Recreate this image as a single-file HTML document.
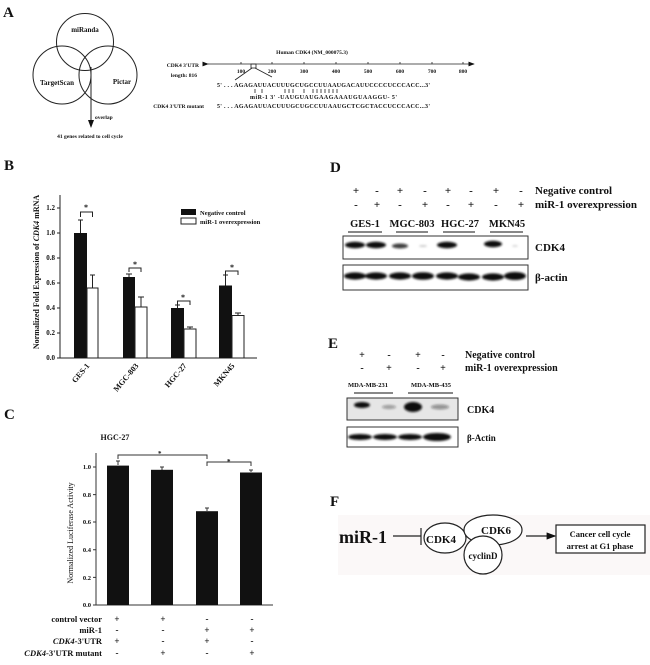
<!DOCTYPE html>
<html><head><meta charset="utf-8"><style>
html,body{margin:0;padding:0;background:#fff}
svg{display:block}
text{font-family:"Liberation Serif",serif;font-weight:bold;fill:#111}
</style></head><body>
<svg width="650" height="665" viewBox="0 0 650 665" xmlns="http://www.w3.org/2000/svg">
<defs>
<marker id="ah" markerWidth="8" markerHeight="6" refX="7" refY="3" orient="auto"><path d="M0,0L8,3L0,6z" fill="#111"/></marker>
<filter id="bl"><feGaussianBlur stdDeviation="1.1"/></filter>
</defs>
<!-- A -->
<text x="3" y="17" font-size="15">A</text>
<g fill="none" stroke="#222" stroke-width="1">
<circle cx="85" cy="42" r="28.5"/><circle cx="62" cy="75" r="29"/><circle cx="108" cy="75" r="29"/>
<line x1="91" y1="67" x2="91" y2="127" marker-end="url(#ah)"/>
</g>
<text x="85" y="32" font-size="7" text-anchor="middle">miRanda</text>
<text x="57" y="85" font-size="7" text-anchor="middle">TargetScan</text>
<text x="122" y="84" font-size="7" text-anchor="middle">Pictar</text>
<text x="95" y="119" font-size="5.5">overlap</text>
<text x="90" y="138" font-size="5.5" text-anchor="middle">41 genes related to cell cycle</text>
<text x="312" y="54" font-size="5.5" text-anchor="middle">Human CDK4 (NM_000075.3)</text>
<g stroke="#222" stroke-width="0.8" fill="none">
<line x1="208" y1="64" x2="474" y2="64" marker-end="url(#ah)" marker-start="url(#ah)"/>
<path d="M241 62v2M272 62v2M304 62v2M336 62v2M368 62v2M400 62v2M432 62v2M463 62v2"/>
<rect x="251" y="64" width="5" height="4"/>
<path d="M252 68L235 80M255 68L272 77"/>
<path d="M255 89v4M262 89v4M285 89v4M289 89v4M293 89v4M304 89v4M313 89v4M317 89v4M321 89v4M325 89v4M329 89v4M333 89v4M337 89v4"/>
</g>
<g font-size="5.5" text-anchor="middle"><text x="241" y="73">100</text><text x="272" y="73">200</text><text x="304" y="73">300</text><text x="336" y="73">400</text><text x="368" y="73">500</text><text x="400" y="73">600</text><text x="432" y="73">700</text><text x="463" y="73">800</text></g>
<g font-size="5.5" text-anchor="end"><text x="199" y="67">CDK4 3'UTR</text><text x="197" y="77">length: 816</text><text x="204" y="108">CDK4 3'UTR mutant</text></g>
<g font-size="6" style="font-weight:normal"><text x="217" y="87" textLength="213">5'  . . . AGAGAUUACUUUGCUGCCUUAAUGACAUUCCCCUCCCACC...3'</text>
<text x="250" y="99" textLength="147">miR-1  3'  -UAUGUAUGAAGAAAUGUAAGGU- 5'</text>
<text x="217" y="108" textLength="213">5'  . . . AGAGAUUACUUUGCUGCCUUAAUGCTCGCTACCUCCCACC...3'</text></g>
<!-- B -->
<text x="4" y="170" font-size="15">B</text>
<text transform="translate(39,272) rotate(-90)" font-size="8" text-anchor="middle">Normalized Fold Expression of <tspan font-style="italic">CDK4</tspan> mRNA</text>
<g stroke="#222" stroke-width="1" fill="none"><path d="M60 195V358H257"/>
<path d="M57 208h3M57 233h3M57 258h3M57 283h3M57 308h3M57 333h3M57 358h3"/>
<path d="M80.5 233V220M92.5 288V275M129 277V274M141 307V297M177.5 308V305M190 329V327M225.5 285.5V275M238 315.5V313"/>
<path d="M78 220h5M90 275h5M126 274h6M138 297h6M175 305h5M187 327h6M223 275h5M235 313h6"/>
<path d="M80.5 217v-5h12v5M129 272v-4h12v4M177.5 305v-4h12.5v4M225.5 275v-4h12.5v4"/>
</g>
<g fill="#111"><rect x="74" y="233" width="13" height="125"/><rect x="123" y="277" width="12" height="81"/><rect x="171" y="308" width="13" height="50"/><rect x="219" y="285.5" width="13" height="72.5"/></g>
<g fill="#fff" stroke="#222"><rect x="87" y="288" width="11" height="70"/><rect x="135" y="307" width="12" height="51"/><rect x="184" y="329" width="12" height="29"/><rect x="232" y="315.5" width="12" height="42.5"/></g>
<g font-size="7" text-anchor="end"><text x="55" y="210">1.2</text><text x="55" y="235">1.0</text><text x="55" y="260">0.8</text><text x="55" y="285">0.6</text><text x="55" y="310">0.4</text><text x="55" y="335">0.2</text><text x="55" y="360">0.0</text></g>
<g font-size="8"><text x="86" y="210" text-anchor="middle">*</text><text x="135" y="267" text-anchor="middle">*</text><text x="183" y="300" text-anchor="middle">*</text><text x="232" y="270" text-anchor="middle">*</text></g>
<g font-size="8" text-anchor="end"><text transform="translate(90,366) rotate(-50)">GES-1</text><text transform="translate(139,366) rotate(-50)">MGC-803</text><text transform="translate(187,366) rotate(-50)">HGC-27</text><text transform="translate(235,366) rotate(-50)">MKN45</text></g>
<rect x="181" y="209" width="15" height="6" fill="#111"/><rect x="181" y="218" width="15" height="6" fill="#fff" stroke="#222"/>
<text x="200" y="215" font-size="6.5">Negative control</text><text x="200" y="224" font-size="6.5">miR-1 overexpression</text>
<!-- C -->
<text x="4" y="419" font-size="15">C</text>
<text x="115" y="440" font-size="8" text-anchor="middle">HGC-27</text>
<text transform="translate(73,533) rotate(-90)" font-size="8" text-anchor="middle" style="font-weight:normal">Normalized Luciferase Activity</text>
<g stroke="#333" stroke-width="1" fill="none"><path d="M96 453V605H273"/>
<path d="M93 467h3M93 494.6h3M93 522h3M93 549.8h3M93 577.4h3M93 605h3"/>
<path d="M118 465V461M162 470V467M207 511V508M251 472V470M116 461h4M160 467h4M205 508h4M249 470h4"/>
<path d="M118 459v-4h89v4M207 466v-4h44v4"/></g>
<g fill="#111"><rect x="107" y="465.6" width="22" height="139.4"/><rect x="151" y="469.8" width="22" height="135.2"/><rect x="196" y="511.2" width="22" height="93.8"/><rect x="240" y="472.5" width="22" height="132.5"/></g>
<g font-size="6.5" text-anchor="end"><text x="91" y="469">1.0</text><text x="91" y="497">0.8</text><text x="91" y="524">0.6</text><text x="91" y="552">0.4</text><text x="91" y="580">0.2</text><text x="91" y="607">0.0</text></g>
<text x="158" y="456" font-size="7">*</text><text x="227" y="464" font-size="7">*</text>
<g font-size="8.5" text-anchor="end"><text x="102" y="622">control vector</text><text x="102" y="633">miR-1</text><text x="102" y="644"><tspan font-style="italic">CDK4</tspan>-3'UTR</text><text x="102" y="656"><tspan font-style="italic">CDK4</tspan>-3'UTR mutant</text></g>
<g font-size="9" text-anchor="middle">
<text x="117" y="622">+</text><text x="163" y="622">+</text><text x="207" y="622">-</text><text x="252" y="622">-</text>
<text x="117" y="633">-</text><text x="163" y="633">-</text><text x="207" y="633">+</text><text x="252" y="633">+</text>
<text x="117" y="644">+</text><text x="163" y="644">-</text><text x="207" y="644">+</text><text x="252" y="644">-</text>
<text x="117" y="656">-</text><text x="163" y="656">+</text><text x="207" y="656">-</text><text x="252" y="656">+</text></g>
<!-- D -->
<text x="330" y="172" font-size="15">D</text>
<g font-size="11" text-anchor="middle">
<text x="356" y="194">+</text><text x="377" y="194">-</text><text x="400" y="194">+</text><text x="425" y="194">-</text><text x="448" y="194">+</text><text x="471" y="194">-</text><text x="496" y="194">+</text><text x="521" y="194">-</text>
<text x="356" y="208">-</text><text x="377" y="208">+</text><text x="400" y="208">-</text><text x="425" y="208">+</text><text x="448" y="208">-</text><text x="471" y="208">+</text><text x="496" y="208">-</text><text x="521" y="208">+</text></g>
<text x="535" y="194" font-size="11">Negative control</text><text x="535" y="208" font-size="11">miR-1 overexpression</text>
<g font-size="10.5" text-anchor="middle"><text x="365" y="227">GES-1</text><text x="412" y="227">MGC-803</text><text x="460" y="227">HGC-27</text><text x="507" y="227">MKN45</text></g>
<g stroke="#111" stroke-width="1"><path d="M348 232h34M396 232h32M443 232h32M490 232h33"/></g>
<rect x="343" y="236" width="185" height="23" fill="#fff" stroke="#333"/>
<rect x="343" y="265" width="185" height="25" fill="#fff" stroke="#333"/>
<g filter="url(#bl)" fill="#111">
<ellipse cx="355" cy="245" rx="10" ry="3.2"/><ellipse cx="376" cy="245" rx="10" ry="3.2"/><ellipse cx="400" cy="246" rx="8" ry="2.5" opacity="0.8"/><ellipse cx="423" cy="246" rx="4" ry="1" opacity="0.2"/><ellipse cx="447" cy="245" rx="10" ry="3.2"/><ellipse cx="493" cy="244" rx="9" ry="3.2"/><ellipse cx="515" cy="246" rx="3" ry="1" opacity="0.15"/>
<ellipse cx="355" cy="276" rx="11" ry="3.6"/><ellipse cx="376" cy="276" rx="11" ry="3.6"/><ellipse cx="400" cy="276" rx="11" ry="3.6"/><ellipse cx="423" cy="276" rx="11" ry="3.8"/><ellipse cx="447" cy="276" rx="11" ry="3.6"/><ellipse cx="469" cy="277" rx="11" ry="3.6"/><ellipse cx="493" cy="277" rx="11" ry="3.6"/><ellipse cx="515" cy="276" rx="11" ry="4"/>
</g>
<text x="535" y="251" font-size="11">CDK4</text><text x="535" y="281" font-size="11">β-actin</text>
<!-- E -->
<text x="328" y="348" font-size="15">E</text>
<g font-size="10" text-anchor="middle"><text x="362" y="358">+</text><text x="389" y="358">-</text><text x="418" y="358">+</text><text x="443" y="358">-</text>
<text x="362" y="371">-</text><text x="389" y="371">+</text><text x="418" y="371">-</text><text x="443" y="371">+</text></g>
<text x="465" y="358" font-size="10">Negative control</text><text x="465" y="371" font-size="10">miR-1 overexpression</text>
<text x="368" y="387" font-size="6.5" text-anchor="middle">MDA-MB-231</text><text x="431" y="387" font-size="6.5" text-anchor="middle">MDA-MB-435</text>
<path d="M354 393h39M408 393h45" stroke="#111"/>
<rect x="347" y="398" width="111" height="22" fill="#e6e6e6" stroke="#333"/>
<rect x="347" y="427" width="111" height="20" fill="#fff" stroke="#333"/>
<g filter="url(#bl)" fill="#111"><ellipse cx="362" cy="405" rx="8" ry="3"/><ellipse cx="389" cy="407" rx="7" ry="2" opacity="0.35"/><ellipse cx="413" cy="407" rx="9" ry="5"/><ellipse cx="440" cy="407" rx="9" ry="2.5" opacity="0.4"/>
<ellipse cx="360" cy="437" rx="12" ry="3"/><ellipse cx="385" cy="437" rx="12" ry="3"/><ellipse cx="410" cy="437" rx="12" ry="3"/><ellipse cx="437" cy="437" rx="14" ry="4"/></g>
<text x="467" y="413" font-size="10">CDK4</text><text x="467" y="441" font-size="9">β-Actin</text>
<!-- F -->
<text x="330" y="506" font-size="15">F</text>
<rect x="338" y="515" width="312" height="60" fill="#fbf8f8"/>
<text x="339" y="543" font-size="18">miR-1</text>
<g stroke="#222" stroke-width="1.2" fill="none"><path d="M393 536H421M421 528V545"/>
<ellipse cx="445" cy="538" rx="21" ry="15" fill="#fff"/><ellipse cx="493" cy="530" rx="29" ry="15" fill="#fff"/><circle cx="483" cy="555" r="19" fill="#fff"/>
<line x1="526" y1="536" x2="555" y2="536" marker-end="url(#ah)"/>
<rect x="556" y="525" width="89" height="28" fill="#fff"/></g>
<text x="441" y="543" font-size="11" text-anchor="middle">CDK4</text>
<text x="496" y="534" font-size="11" text-anchor="middle">CDK6</text>
<text x="483" y="559" font-size="9" text-anchor="middle">cyclinD</text>
<text x="600" y="537" font-size="8.5" text-anchor="middle">Cancer cell cycle</text>
<text x="600" y="549" font-size="8.5" text-anchor="middle">arrest at G1 phase</text>
</svg>
</body></html>
